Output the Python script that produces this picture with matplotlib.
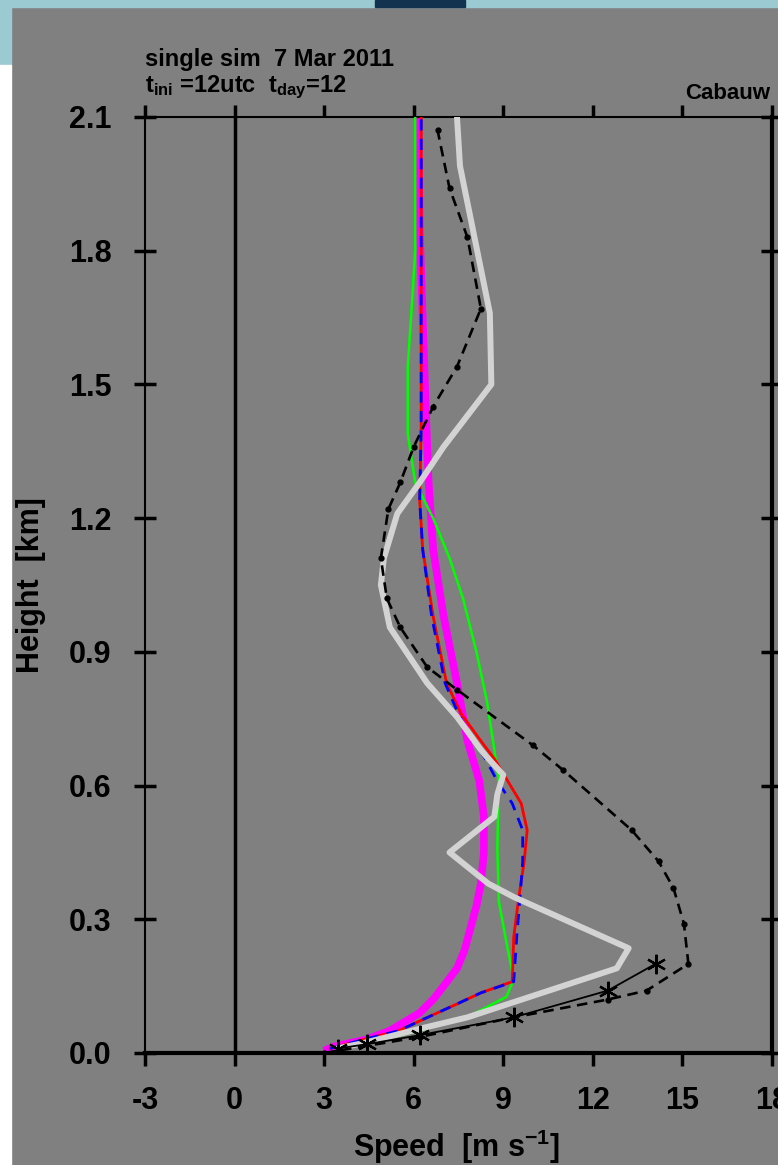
import numpy as np
import matplotlib.pyplot as plt
from matplotlib.patches import Rectangle

plt.rcParams['font.family'] = ['Liberation Sans', 'DejaVu Sans']
plt.rcParams['font.weight'] = 'bold'
plt.rcParams['axes.labelweight'] = 'bold'
plt.rcParams['mathtext.default'] = 'regular'

# model profiles: wind speed (m/s) vs height (km)
h_mag = [0.005, 0.014, 0.03, 0.05, 0.09, 0.12, 0.15, 0.19, 0.23, 0.28, 0.33, 0.38,
         0.45, 0.53, 0.61, 0.70, 0.83, 0.98, 1.13, 1.28, 1.45, 1.65, 1.85, 2.1]
s_mag = [3.0, 3.3, 4.4, 5.2, 6.2, 6.65, 7.0, 7.45, 7.7, 7.9, 8.1, 8.25,
         8.35, 8.35, 8.2, 7.8, 7.45, 7.0, 6.65, 6.5, 6.4, 6.3, 6.2, 6.15]

h_rb = [0.01, 0.03, 0.05, 0.075, 0.11, 0.135, 0.16, 0.26, 0.34, 0.43, 0.50, 0.56,
        0.61, 0.66, 0.70, 0.76, 0.83, 0.98, 1.13, 1.24, 1.40, 1.70, 2.1]
s_red = [3.2, 4.3, 5.5, 6.3, 7.45, 8.25, 9.3, 9.35, 9.5, 9.7, 9.8, 9.6,
         9.15, 8.7, 8.25, 7.6, 7.1, 6.65, 6.3, 6.2, 6.25, 6.25, 6.25]
s_blue = [3.2, 4.3, 5.5, 6.3, 7.45, 8.25, 9.35, 9.45, 9.55, 9.65, 9.65, 9.3,
          8.8, 8.4, 8.0, 7.5, 7.05, 6.6, 6.3, 6.2, 6.25, 6.25, 6.25]

h_grn = [0.01, 0.03, 0.05, 0.081, 0.103, 0.126, 0.164, 0.25, 0.34, 0.46, 0.61, 0.68,
         0.79, 0.90, 1.02, 1.11, 1.20, 1.28, 1.39, 1.54, 1.69, 1.80, 1.94, 2.1]
s_grn = [3.6, 4.9, 6.2, 7.8, 8.45, 9.1, 9.35, 9.1, 8.85, 8.8, 8.85, 8.7,
         8.45, 8.1, 7.65, 7.2, 6.65, 6.05, 5.8, 5.8, 5.95, 6.05, 6.05, 6.05]

h_gry = [0.011, 0.022, 0.056, 0.08, 0.19, 0.235, 0.35, 0.38, 0.45, 0.53, 0.58, 0.624, 0.664,
         0.68, 0.754, 0.83, 0.955, 1.05, 1.11, 1.21, 1.28, 1.36, 1.50, 1.66, 1.99, 2.1]
s_gry = [3.5, 4.3, 6.3, 7.8, 12.8, 13.2, 9.35, 8.5, 7.2, 8.7, 8.8, 9.0, 8.45,
         8.25, 7.45, 6.45, 5.2, 4.9, 5.0, 5.45, 6.2, 7.0, 8.6, 8.55, 7.55, 7.45]

# observations
h_prof = [0.0, 0.036, 0.08, 0.12, 0.14, 0.20, 0.29, 0.37, 0.43, 0.50, 0.635, 0.69, 0.815,
          0.866, 0.955, 1.02, 1.11, 1.22, 1.28, 1.36, 1.45, 1.54, 1.67, 1.83, 1.94, 2.07]
s_prof = [3.0, 6.2, 9.35, 12.5, 13.8, 15.2, 15.05, 14.7, 14.2, 13.3, 11.0, 10.0, 7.45,
          6.45, 5.55, 5.1, 4.9, 5.15, 5.55, 6.0, 6.65, 7.45, 8.25, 7.8, 7.2, 6.8]

h_mast = [0.01, 0.02, 0.04, 0.08, 0.14, 0.20]
s_mast = [3.45, 4.45, 6.2, 9.35, 12.5, 14.1]

xticks = np.arange(-3, 19, 3)
yticks = np.arange(0, 2.11, 0.3)

fig = plt.figure(figsize=(7.78, 11.65), dpi=100, facecolor='#808080')
W, H = 778, 1165
fig.patches.append(Rectangle((0, 1 - 7 / H), 1, 7 / H, transform=fig.transFigure,
                             color='#9ccad2', zorder=-5))
fig.patches.append(Rectangle((375 / W, 1 - 7 / H), 90 / W, 7 / H, transform=fig.transFigure,
                             color='#12324f', zorder=-4))
fig.patches.append(Rectangle((0, 1 - 65 / H), 11 / W, 65 / H, transform=fig.transFigure,
                             color='#9ccad2', zorder=-5))
fig.patches.append(Rectangle((0, 0), 11 / W, 1 - 65 / H, transform=fig.transFigure,
                             color='white', zorder=-5))

ax = fig.add_axes([145 / W, 1 - 1053 / H, 627 / W, 936 / H])
ax.set_facecolor('#808080')

ax.axvline(0, color='black', lw=2.5, zorder=1)

ax.plot(s_mag, h_mag, color='magenta', lw=5.5, solid_capstyle='butt', zorder=2)
ax.plot(s_grn, h_grn, color='#00ff00', lw=1.8, zorder=3)
ax.plot(s_red, h_rb, color='red', lw=2, zorder=4)
ax.plot(s_blue, h_rb, color='blue', lw=2, dashes=(4, 3), zorder=5)
ax.plot(s_gry, h_gry, color='#d3d3d3', lw=4.3, zorder=6)
ax.plot(s_prof, h_prof, color='black', lw=1.9, dashes=(4, 2.5), marker='o', ms=3.5, zorder=7)
ax.plot(s_mast, h_mast, color='black', lw=1.3, marker=(6, 2, 0), ms=14, mew=1.6, zorder=8)

ax.set_xlim(-3, 18)
ax.set_ylim(0, 2.1)
ax.set_xticks(xticks)
ax.set_yticks(yticks)
ax.set_xticklabels([str(v) for v in xticks])
ax.set_yticklabels(['%.1f' % v for v in yticks])

ax.tick_params(axis='x', direction='out', length=9, width=2.5, labelsize=22, pad=15,
               top=True, bottom=True)
ax.tick_params(axis='y', direction='inout', length=16, width=2.5, labelsize=22, pad=16,
               left=True, right=True)
for side, w in [('left', 1.5), ('right', 3), ('top', 1.5), ('bottom', 3)]:
    ax.spines[side].set_linewidth(w)

ax.set_xlabel('Speed  [m s$^{-1}$]', fontsize=22)
ax.set_ylabel('Height  [km]', fontsize=22)
ax.xaxis.set_label_coords((457 - 145) / 627, -(1147 - 1053) / 936)
ax.yaxis.set_label_coords(-(145 - 31) / 627, 0.5)
ax.xaxis.label.set_va('center')
ax.yaxis.label.set_va('center')

fig.text(145 / W, 1 - 66 / H, 'single sim  7 Mar 2011', fontsize=17, ha='left', va='baseline')
fig.text(145 / W, 1 - 92 / H, 't$_{ini}$ =12utc  t$_{day}$=12', fontsize=17, ha='left', va='baseline')
fig.text(770 / W, 1 - 99 / H, 'Cabauw', fontsize=16, ha='right', va='baseline')

fig.savefig('out.png', dpi=100, facecolor=fig.get_facecolor())
